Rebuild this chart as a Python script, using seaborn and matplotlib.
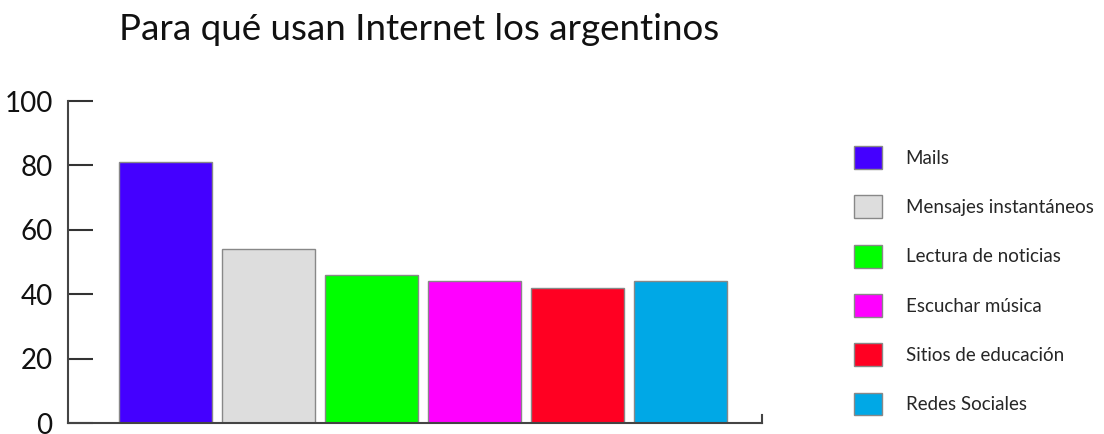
import matplotlib
matplotlib.use('Agg')
import matplotlib.pyplot as plt
from matplotlib.patches import Patch
import seaborn as sns
import pandas as pd

categorias = ['Mails', 'Mensajes instantáneos', 'Lectura de noticias',
              'Escuchar música', 'Sitios de educación', 'Redes Sociales']
porcentajes = [81, 54, 46, 44, 42, 44]
colores = ['#4400ff', '#dddddd', '#00ff00', '#ff00ff', '#ff0022', '#00a8e6']

sns.set_style('white')
plt.rcParams['font.family'] = ['Lato', 'DejaVu Sans']

data = pd.DataFrame({'uso': categorias, 'pct': porcentajes})

fig = plt.figure(figsize=(11.04, 4.34), dpi=100)
ax = fig.add_axes([68/1104, 11/434, (762-68)/1104, (423-101)/434])

sns.barplot(data=data, x='uso', y='pct', hue='uso', order=categorias,
            palette=colores, saturation=1, width=0.9, edgecolor='#888888',
            linewidth=1, legend=False, ax=ax)

ax.set_ylim(0, 100)
ax.set_xlim(-0.947, 5.79)
ax.set_yticks([0, 20, 40, 60, 80, 100])
ax.set_xticks([])
ax.set_xlabel('')
ax.set_ylabel('')
ax.tick_params(axis='y', direction='in', length=18, width=1.5, color='#333333',
               labelsize=20, pad=11, left=True, labelcolor='#111111')

ax.spines['top'].set_visible(False)
for s in ['left', 'bottom', 'right']:
    ax.spines[s].set_color('#444444')
    ax.spines[s].set_linewidth(1.5)
ax.spines['right'].set_bounds(0, 2.5)

handles = [Patch(facecolor=c, edgecolor='#888888', linewidth=1) for c in colores]
fig.legend(handles, categorias, loc='upper left', bbox_to_anchor=(854/1104, 1 - 146/434),
           frameon=False, fontsize=13.5, handlelength=1.5, handleheight=1.5,
           labelspacing=1.41, handletextpad=1.25, borderpad=0, borderaxespad=0)

fig.text(419/1104, 1 - 29/434, 'Para qué usan Internet los argentinos',
         ha='center', va='center', fontsize=26.5, color='#111111')

fig.savefig('out.png', dpi=100)
